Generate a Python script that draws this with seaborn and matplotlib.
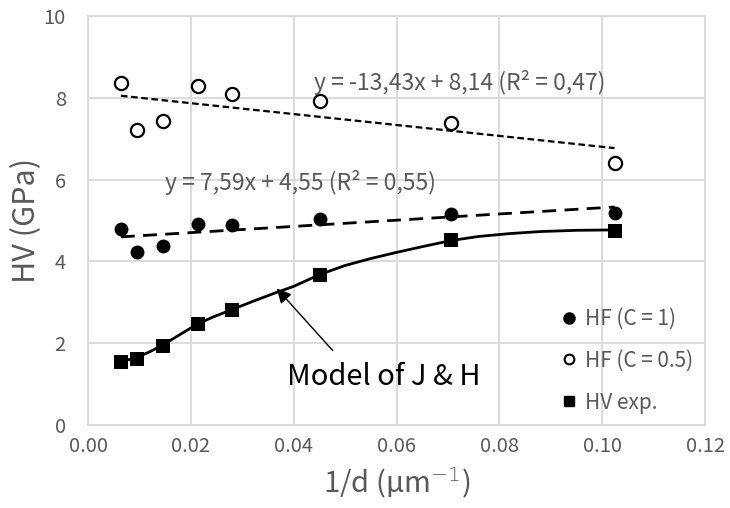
import matplotlib
matplotlib.use("Agg")
import matplotlib.pyplot as plt
from matplotlib.lines import Line2D
import seaborn as sns
import pandas as pd

# ---- data ----
inv_d = [0.0064, 0.0095, 0.0146, 0.0213, 0.0280, 0.0451, 0.0706, 0.1024]
hf_c1 = [4.79, 4.24, 4.38, 4.91, 4.89, 5.04, 5.15, 5.18]
hf_c05 = [8.37, 7.21, 7.43, 8.29, 8.09, 7.93, 7.39, 6.40]
hv_exp = [1.53, 1.61, 1.94, 2.47, 2.81, 3.67, 4.52, 4.74]

model_x = [0.0064, 0.0095, 0.0120, 0.0146, 0.0180, 0.0213, 0.0245, 0.0280,
           0.0320, 0.0360, 0.0400, 0.0451, 0.0500, 0.0550, 0.0600, 0.0650,
           0.0706, 0.0760, 0.0820, 0.0880, 0.0950, 0.1024]
model_y = [1.55, 1.65, 1.79, 1.96, 2.22, 2.47, 2.65, 2.82,
           3.02, 3.21, 3.39, 3.68, 3.90, 4.07, 4.22, 4.36,
           4.51, 4.61, 4.68, 4.73, 4.76, 4.77]

trend_x = [0.0064, 0.1024]
trend_c1_y = [4.60, 5.33]
trend_c05_y = [8.05, 6.77]

eq_c05 = "y = -13,43x + 8,14 (R² = 0,47)"
eq_c1 = "y = 7,59x + 4,55 (R² = 0,55)"
legend_labels = ["HF (C = 1)", "HF (C = 0.5)", "HV exp."]
x_ticks = [0.00, 0.02, 0.04, 0.06, 0.08, 0.10, 0.12]
y_ticks = [0, 2, 4, 6, 8, 10]

sns.set_theme(style="white")
plt.rcParams["font.family"] = ["Noto Sans CJK SC", "DejaVu Sans"]
plt.rcParams["font.weight"] = "light"

GRAY = "#595959"
GRID = "#d9d9d9"

fig = plt.figure(figsize=(7.3, 5.08), dpi=100)
ax = fig.add_axes([88 / 730, 1 - 425 / 508, 617 / 730, 409 / 508])

df = pd.DataFrame({"x": inv_d, "c1": hf_c1, "c05": hf_c05, "hv": hv_exp})

# model curve and trend lines
sns.lineplot(x=model_x, y=model_y, ax=ax, color="black", lw=2.0, sort=False, zorder=2)
sns.lineplot(x=trend_x, y=trend_c05_y, ax=ax, color="black", lw=1.6, zorder=2,
             linestyle=(0, (3, 1.6)))
sns.lineplot(x=trend_x, y=trend_c1_y, ax=ax, color="black", lw=2.0, zorder=2,
             linestyle=(0, (5, 3)))

# markers
sns.scatterplot(data=df, x="x", y="c1", ax=ax, marker="o", s=100, color="black",
                edgecolor="black", linewidth=0, zorder=3)
sns.scatterplot(data=df, x="x", y="c05", ax=ax, marker="o", s=90, facecolor="white",
                edgecolor="black", linewidth=1.6, zorder=3)
sns.scatterplot(data=df, x="x", y="hv", ax=ax, marker="s", s=110, color="black",
                edgecolor="black", linewidth=0, zorder=3)

ax.set_xlim(0, 0.12)
ax.set_ylim(0, 10)
ax.set_xticks(x_ticks)
ax.set_xticklabels([f"{t:.2f}" for t in x_ticks])
ax.set_yticks(y_ticks)
ax.set_yticklabels([str(t) for t in y_ticks])
ax.tick_params(axis="both", length=0, labelsize=14.5, labelcolor=GRAY)
ax.tick_params(axis="x", pad=8)
ax.tick_params(axis="y", pad=16)
ax.grid(True, color=GRID, lw=1.3)
ax.set_axisbelow(True)
for s in ax.spines.values():
    s.set_color(GRID)
    s.set_linewidth(1.3)

ax.set_xlabel("1/d (µm$^{-1}$)", fontsize=21, color=GRAY)
ax.set_ylabel("HV (GPa)", fontsize=22, color=GRAY)
ax.xaxis.set_label_coords(0.5, (425 - 466) / 409)
ax.yaxis.set_label_coords((42 - 88) / 617, 0.5)

# equations
ax.text(0.0440, 8.38, eq_c05, fontsize=16.5, color=GRAY, ha="left", va="center")
ax.text(0.0150, 5.92, eq_c1, fontsize=16.5, color=GRAY, ha="left", va="center")

# annotation: arrow and label
ax.annotate("", xy=(0.0367, 3.34), xytext=(0.0476, 1.82),
            arrowprops=dict(arrowstyle="-|>", color="black", lw=1.0,
                            mutation_scale=22, shrinkA=0, shrinkB=0))
ax.text(0.0576, 1.17, "Model of J & H", fontsize=21, color="black",
        ha="center", va="center")

handles = [
    Line2D([], [], marker="o", ls="", color="black", markersize=8),
    Line2D([], [], marker="o", ls="", markerfacecolor="white", markeredgecolor="black",
           markeredgewidth=1.5, markersize=7),
    Line2D([], [], marker="s", ls="", color="black", markersize=7),
]
leg = ax.legend(handles, legend_labels, loc="lower right", bbox_to_anchor=(1.0, 0.0),
                frameon=False, fontsize=15, labelcolor=GRAY, handlelength=0.6,
                handletextpad=0.5, labelspacing=0.95, borderaxespad=0.15)

fig.savefig("out.png", dpi=100)
